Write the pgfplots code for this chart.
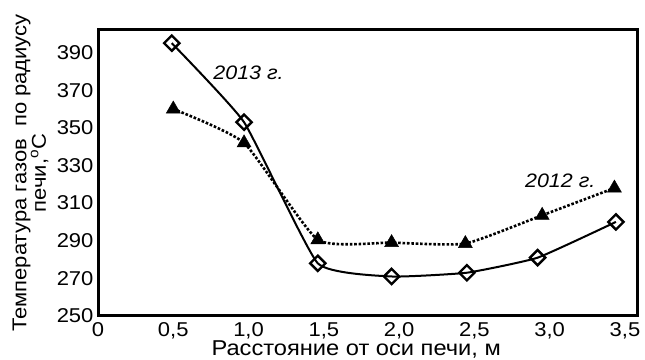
\documentclass[border=0pt]{standalone}
\usepackage{fontspec}
\setmainfont{Liberation Sans}[FakeStretch=1.1]
\usepackage{pgfplots}
\pgfplotsset{compat=1.18}
\begin{document}
\begin{tikzpicture}
\begin{axis}[
  scale only axis,
  width=539pt, height=286pt,
  xmin=0, xmax=3.58, ymin=250, ymax=402,
  xtick={0,0.5,1,1.5,2,2.5,3,3.5},
  xticklabels={0,{0,5},{1,0},{1,5},{2,0},{2,5},{3,0},{3,5}},
  ytick={250,270,290,310,330,350,370,390},
  major tick length=0pt,
  tick label style={font=\fontsize{20}{22}\selectfont},
  /pgf/number format/assume math mode=true,
  yticklabel style={xshift=-1pt},
  xticklabel style={yshift=-3pt},
  xlabel={Расстояние от оси печи, м},
  xlabel style={font=\fontsize{21.5}{22}\selectfont, at={(axis description cs:0.479,0)}, anchor=north, yshift=-21.5pt},
  ylabel={Температура газов\ \ по радиусу\\печи,\textsuperscript{o}C},
  ylabel style={font=\fontsize{20}{19.5}\selectfont, align=center, at={(axis description cs:0,0.5)}, anchor=south, yshift=46pt},
  clip=false,
]
\coordinate (sw) at (rel axis cs:0,0);
\coordinate (ne) at (rel axis cs:1,1);
% 2013
\addplot[black, line width=2pt, smooth, tension=0.25,
  mark=square, mark size=5.4pt,
  mark options={rotate=45, fill=white, solid, line width=2.4pt}]
  coordinates {(0.49,395) (0.97,353) (1.46,278) (1.95,271) (2.45,273) (2.92,281) (3.44,300)};
% 2012
\addplot[black, line width=2.6pt, smooth, tension=0.3, dash pattern=on 2.6pt off 1.8pt,
  mark=triangle*, mark size=8pt,
  mark options={solid, fill=black, line width=0.5pt}]
  coordinates {(0.5,360) (0.97,342) (1.46,290.5) (1.95,289) (2.44,288.5) (2.95,303.5) (3.43,318)};
\node[font=\fontsize{19.5}{22}\selectfont\itshape] at (axis cs:1.0,379.5) {2013 г.};
\node[font=\fontsize{19.5}{22}\selectfont\itshape] at (axis cs:3.07,321.8) {2012 г.};
\end{axis}
\draw[line width=3pt] (sw) rectangle (ne);
\pgfresetboundingbox
\path ([shift={(-98pt,-44pt)}]sw) rectangle ([shift={(8pt,30pt)}]ne);
\end{tikzpicture}
\end{document}
